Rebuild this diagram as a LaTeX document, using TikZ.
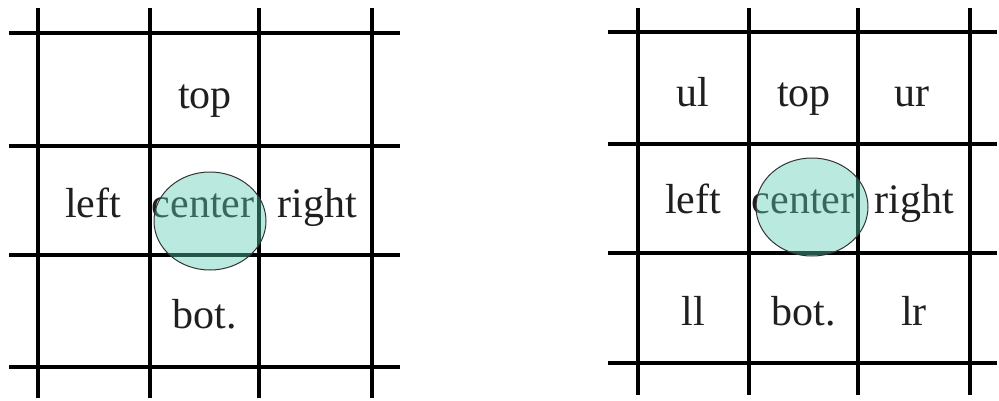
\documentclass[tikz,border=0pt]{standalone}
\usepackage{fontspec}
\setmainfont{Liberation Serif}
\definecolor{mint}{RGB}{90,205,178}
\begin{document}
\begin{tikzpicture}[x=1pt,y=-1pt,
  gridline/.style={line width=3.6pt,black},
  lbl/.style={anchor=base,inner sep=0pt,font=\fontsize{42}{42}\selectfont,text=black!88},
  disc/.style={draw=black!80,line width=1pt,fill=mint,fill opacity=0.42}]
\useasboundingbox (0,0) rectangle (999,400);
% left grid
\foreach \x in {38,150,259,372} \draw[gridline] (\x,8) -- (\x,398);
\foreach \y in {33,146,255,367} \draw[gridline] (9,\y) -- (400,\y);
\node[lbl] (Ltop) at (205,108) {top};
\node[lbl] (Lleft) at (93,217) {left};
\node[lbl] (Lcenter) at (203,217) {center};
\node[lbl] (Lright) at (317,217) {right};
\node[lbl] (Lbot) at (205,328) {bot.};
\draw[disc] (210,221) ellipse [x radius=56, y radius=49];
% right grid
\foreach \x in {638,749,858,970} \draw[gridline] (\x,8) -- (\x,395);
\foreach \y in {32,144,253,363} \draw[gridline] (608,\y) -- (997,\y);
\node[lbl] (Rul) at (693,106) {ul};
\node[lbl] (Rtop) at (804,106) {top};
\node[lbl] (Rur) at (912,106) {ur};
\node[lbl] (Rleft) at (693,213) {left};
\node[lbl] (Rcenter) at (803,213) {center};
\node[lbl] (Rright) at (914,213) {right};
\node[lbl] (Rll) at (693,325) {ll};
\node[lbl] (Rbot) at (804,325) {bot.};
\node[lbl] (Rlr) at (914,325) {lr};
\draw[disc] (812,207) ellipse [x radius=56, y radius=49];
\end{tikzpicture}
\end{document}
